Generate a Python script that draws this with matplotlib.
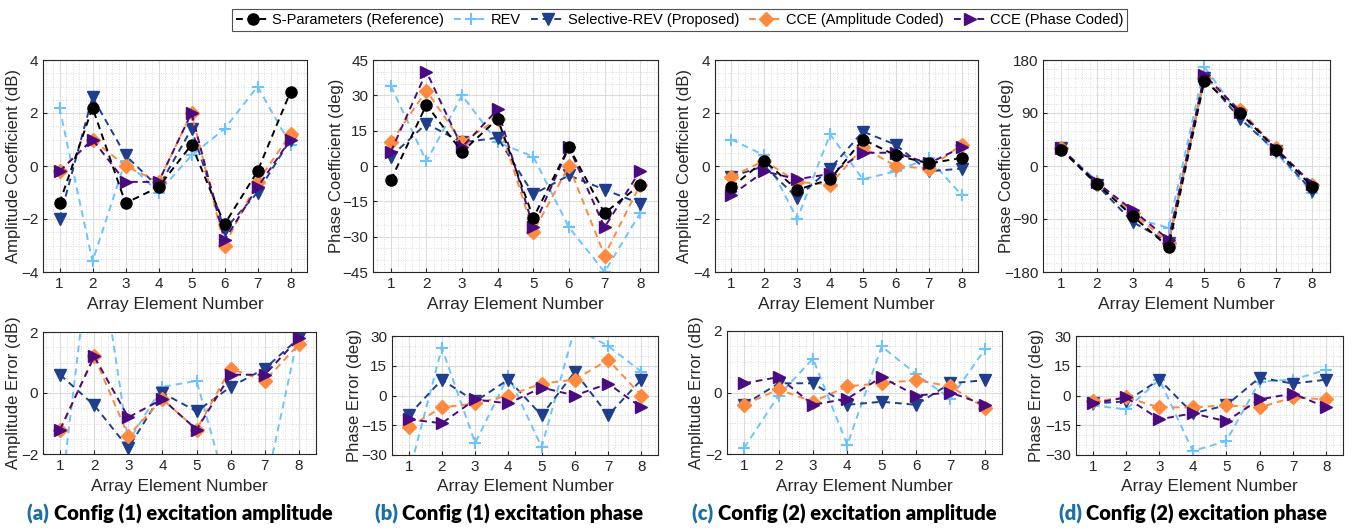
import numpy as np
import matplotlib
matplotlib.use("Agg")
import matplotlib.pyplot as plt
from matplotlib.ticker import MultipleLocator

plt.rcParams['font.family'] = ['Liberation Sans', 'DejaVu Sans']

elements = [1, 2, 3, 4, 5, 6, 7, 8]
series_names = ['S-Parameters (Reference)', 'REV', 'Selective-REV (Proposed)',
                'CCE (Amplitude Coded)', 'CCE (Phase Coded)']

# Config (1), amplitude coefficient (dB)
c1_amp_ref = [-1.4, 2.2, -1.4, -0.8, 0.8, -2.2, -0.2, 2.8]
c1_amp_rev = [2.2, -3.6, 0.2, -1.0, 0.4, 1.4, 3.0, 0.8]
c1_amp_sel = [-2.0, 2.6, 0.4, -0.8, 1.4, -2.4, -1.0, 1.0]
c1_amp_cca = [-0.2, 1.0, 0.0, -0.6, 2.0, -3.0, -0.6, 1.2]
c1_amp_ccp = [-0.2, 1.0, -0.6, -0.6, 2.0, -2.8, -0.8, 1.0]
# Config (1), amplitude error (dB)
c1_amp_err_rev = [-3.6, 5.8, -1.6, 0.2, 0.4, -3.6, -3.2, 2.0]
c1_amp_err_sel = [0.6, -0.4, -1.8, 0.0, -0.6, 0.2, 0.8, 1.8]
c1_amp_err_cca = [-1.2, 1.2, -1.4, -0.2, -1.2, 0.8, 0.4, 1.6]
c1_amp_err_ccp = [-1.2, 1.2, -0.8, -0.2, -1.2, 0.6, 0.6, 1.8]

# Config (1), phase coefficient (deg)
c1_ph_ref = [-6, 26, 6, 20, -22, 8, -20, -8]
c1_ph_rev = [34, 2, 30, 10, 4, -26, -45, -20]
c1_ph_sel = [4, 18, 10, 12, -12, -4, -10, -16]
c1_ph_cca = [10, 32, 10, 20, -28, 0, -38, -8]
c1_ph_ccp = [6, 40, 8, 24, -26, 8, -26, -2]
# Config (1), phase error (deg)
c1_ph_err_rev = [-40, 24, -24, 10, -26, 34, 25, 12]
c1_ph_err_sel = [-10, 8, -3, 8, -10, 12, -10, 8]
c1_ph_err_cca = [-16, -6, -4, 0, 6, 8, 18, 0]
c1_ph_err_ccp = [-12, -14, -2, -4, 4, 0, 6, -6]

# Config (2), amplitude coefficient (dB)
c2_amp_ref = [-0.8, 0.2, -0.9, -0.5, 1.0, 0.4, 0.1, 0.3]
c2_amp_rev = [1.0, 0.4, -2.0, 1.2, -0.5, -0.2, 0.3, -1.1]
c2_amp_sel = [-0.4, 0.0, -1.2, -0.1, 1.3, 0.8, -0.2, -0.1]
c2_amp_cca = [-0.4, 0.2, -0.6, -0.7, 0.7, 0.0, -0.1, 0.8]
c2_amp_ccp = [-1.1, -0.2, -0.5, -0.3, 0.5, 0.5, 0.1, 0.7]
# Config (2), amplitude error (dB)
c2_amp_err_rev = [-1.8, -0.1, 1.1, -1.7, 1.5, 0.6, -0.2, 1.4]
c2_amp_err_sel = [-0.4, 0.3, 0.3, -0.4, -0.3, -0.4, 0.3, 0.4]
c2_amp_err_cca = [-0.4, 0.1, -0.3, 0.2, 0.3, 0.4, 0.2, -0.5]
c2_amp_err_ccp = [0.3, 0.5, -0.4, -0.2, 0.5, -0.1, 0.0, -0.4]

# Config (2), phase coefficient (deg)
c2_ph_ref = [28, -30, -85, -138, 145, 90, 28, -35]
c2_ph_rev = [30, -25, -88, -105, 168, 85, 22, -45]
c2_ph_sel = [30, -32, -95, -130, 150, 80, 25, -42]
c2_ph_cca = [30, -30, -80, -130, 150, 95, 30, -33]
c2_ph_ccp = [30, -28, -75, -125, 155, 92, 29, -30]
# Config (2), phase error (deg)
c2_ph_err_rev = [-5, -7, 8, -28, -23, 7, 8, 13]
c2_ph_err_sel = [-4, -3, 8, -9, -5, 9, 6, 8]
c2_ph_err_cca = [-3, -1, -6, -6, -5, -6, -1, -2]
c2_ph_err_ccp = [-4, -1, -12, -9, -13, -2, 1, -6]

captions = [('(a)', 'Config (1) excitation amplitude'),
            ('(b)', 'Config (1) excitation phase'),
            ('(c)', 'Config (2) excitation amplitude'),
            ('(d)', 'Config (2) excitation phase')]

styles = {
    'ref': dict(color='black', marker='o', ms=8),
    'rev': dict(color='#6cc3ff', marker='+', ms=9, mew=1.5),
    'sel': dict(color='#1f3f8c', marker='v', ms=9),
    'cca': dict(color='#ff8a3d', marker='D', ms=7),
    'ccp': dict(color='#4a0a80', marker='>', ms=9),
}

W, H = 1354, 528
fig = plt.figure(figsize=(W / 100, H / 100), dpi=100)


def px_axes(l, t, r, b):
    return fig.add_axes([l / W, 1 - b / H, (r - l) / W, (b - t) / H])


def style_axes(ax, box, ylim, ystep, yminor, ylabel, ylab_x, xlab_y):
    ax.set_xlim(0.5, 8.5)
    ax.set_ylim(*ylim)
    ax.set_xticks(elements)
    ax.xaxis.set_minor_locator(MultipleLocator(0.2))
    ax.yaxis.set_major_locator(MultipleLocator(ystep))
    ax.yaxis.set_minor_locator(MultipleLocator(yminor))
    ax.grid(True, which='major', color='#dcdcdc', lw=0.8)
    ax.grid(True, which='minor', color='#d0d0d0', lw=0.6, ls=(0, (1, 2)))
    ax.set_axisbelow(True)
    ax.tick_params(which='both', direction='in', labelsize=11, colors='#262626',
                   length=3, pad=3.5, top=False, right=False)
    ax.tick_params(which='minor', length=0)
    for s in ax.spines.values():
        s.set_color('#262626')
        s.set_linewidth(0.8)
    ax.set_xlabel('Array Element Number', fontsize=12.5, color='#262626', va='center')
    ax.set_ylabel(ylabel, fontsize=12, color='#262626', va='center')
    l, t, r, b = box
    ax.yaxis.set_label_coords((ylab_x - l) / (r - l), 0.5)
    ax.xaxis.set_label_coords(0.5, (b - xlab_y) / (b - t))


def draw(ax, data):
    handles = []
    for key, y in data:
        st = styles[key]
        h, = ax.plot(elements, y, ls='--', lw=1.4, dashes=(3.5, 2.5), clip_on=True, **st)
        handles.append(h)
    return handles


top_boxes = [(43, 60, 307, 272), (373, 60, 658, 272), (715, 60, 978, 272), (1043, 60, 1330, 272)]
bot_boxes = [(43, 332, 316, 454), (392, 336, 658, 455), (727, 331, 1002, 454), (1076, 336, 1343, 455)]
top_ylab_x = [14, 337, 684, 1007]
bot_ylab_x = [14, 355, 697, 1037]
caption_centres = [180, 509, 844, 1193]

top_data = [
    [('rev', c1_amp_rev), ('sel', c1_amp_sel), ('cca', c1_amp_cca), ('ccp', c1_amp_ccp), ('ref', c1_amp_ref)],
    [('rev', c1_ph_rev), ('sel', c1_ph_sel), ('cca', c1_ph_cca), ('ccp', c1_ph_ccp), ('ref', c1_ph_ref)],
    [('rev', c2_amp_rev), ('sel', c2_amp_sel), ('cca', c2_amp_cca), ('ccp', c2_amp_ccp), ('ref', c2_amp_ref)],
    [('rev', c2_ph_rev), ('sel', c2_ph_sel), ('cca', c2_ph_cca), ('ccp', c2_ph_ccp), ('ref', c2_ph_ref)],
]
bot_data = [
    [('rev', c1_amp_err_rev), ('sel', c1_amp_err_sel), ('cca', c1_amp_err_cca), ('ccp', c1_amp_err_ccp)],
    [('rev', c1_ph_err_rev), ('sel', c1_ph_err_sel), ('cca', c1_ph_err_cca), ('ccp', c1_ph_err_ccp)],
    [('rev', c2_amp_err_rev), ('sel', c2_amp_err_sel), ('cca', c2_amp_err_cca), ('ccp', c2_amp_err_ccp)],
    [('rev', c2_ph_err_rev), ('sel', c2_ph_err_sel), ('cca', c2_ph_err_cca), ('ccp', c2_ph_err_ccp)],
]
top_fmt = [((-4, 4), 2, 0.5, 'Amplitude Coefficient (dB)'),
           ((-45, 45), 15, 5, 'Phase Coefficient (deg)'),
           ((-4, 4), 2, 0.5, 'Amplitude Coefficient (dB)'),
           ((-180, 180), 90, 15, 'Phase Coefficient (deg)')]
bot_fmt = [((-2, 2), 2, 0.5, 'Amplitude Error (dB)'),
           ((-30, 30), 15, 5, 'Phase Error (deg)'),
           ((-2, 2), 2, 0.5, 'Amplitude Error (dB)'),
           ((-30, 30), 15, 5, 'Phase Error (deg)')]

legend_handles = None
cap_texts = []
for i in range(4):
    ax = px_axes(*top_boxes[i])
    style_axes(ax, top_boxes[i], *top_fmt[i], top_ylab_x[i], 304)
    h = draw(ax, top_data[i])
    if legend_handles is None:
        legend_handles = [h[4], h[0], h[1], h[2], h[3]]

    axb = px_axes(*bot_boxes[i])
    style_axes(axb, bot_boxes[i], *bot_fmt[i], bot_ylab_x[i], 487)
    draw(axb, bot_data[i])

    cx = caption_centres[i] / W
    fam = ['Lato', 'DejaVu Sans']
    t1 = fig.text(cx, 1 - 514 / H, captions[i][0] + ' ', fontsize=14.5, fontweight='heavy',
                  color='#1b6fa6', family=fam, ha='right', va='center')
    t2 = fig.text(cx, 1 - 514 / H, captions[i][1], fontsize=14.5, fontweight='heavy',
                  color='black', family=fam, ha='left', va='center')
    cap_texts.append((t1, t2))

fig.canvas.draw()
# centre each caption pair on its column
r = fig.canvas.get_renderer()
for i, (a, b) in enumerate(cap_texts):
    wa = a.get_window_extent(r).width
    wb = b.get_window_extent(r).width
    x0 = caption_centres[i] - (wa + wb) / 2
    a.set_x((x0 + wa) / W)
    b.set_x((x0 + wa) / W)

leg = fig.legend(legend_handles, series_names, loc='upper center', bbox_to_anchor=(0.502, 0.996),
                 ncol=5, frameon=True, fancybox=False, edgecolor='#262626',
                 handlelength=2.3, handletextpad=0.2, columnspacing=0.7, borderpad=0.25,
                 prop={'family': ['Liberation Sans'], 'size': 10.5})
leg.get_frame().set_linewidth(0.8)

fig.savefig('out.png', dpi=100)
